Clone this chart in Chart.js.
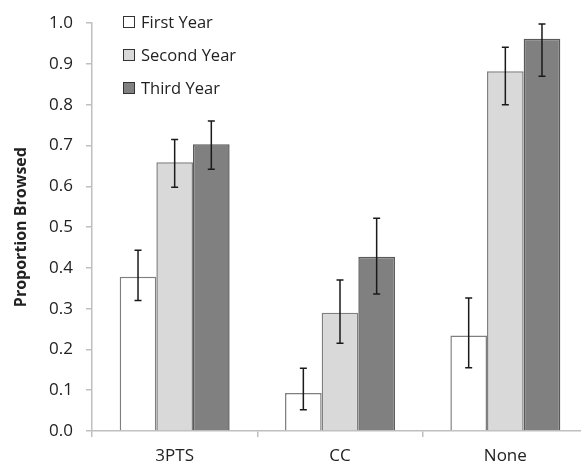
<!DOCTYPE html>
<html><head><meta charset="utf-8">
<script src="https://cdn.jsdelivr.net/npm/chart.js@4.4.0/dist/chart.umd.min.js"></script>
<style>
html,body{margin:0;padding:0;background:#fff;overflow:hidden;}
#wrap{position:relative;width:581px;height:465px;overflow:hidden;}
#legend{position:absolute;left:123px;top:5px;font-family:"Open Sans",sans-serif;font-size:16.5px;color:#222;}
#legend div{height:33px;display:flex;align-items:center;}
#legend span.b{display:inline-block;width:12px;height:12px;border:1.5px solid #333;margin-right:6px;box-sizing:border-box;}
</style></head>
<body>
<div id="wrap">
<canvas id="c" width="588" height="465"></canvas>
<div id="legend"></div>
</div>
<script>
const categories = ["3PTS", "CC", "None"];
const seriesNames = ["First Year", "Second Year", "Third Year"];
const firstYear = [0.378, 0.093, 0.234];
const secondYear = [0.659, 0.290, 0.882];
const thirdYear = [0.703, 0.427, 0.962];
const firstLow = [0.320, 0.052, 0.155];
const firstHigh = [0.443, 0.154, 0.326];
const secondLow = [0.598, 0.215, 0.800];
const secondHigh = [0.715, 0.370, 0.941];
const thirdLow = [0.642, 0.336, 0.870];
const thirdHigh = [0.760, 0.522, 0.998];
const yTicks = [0.0, 0.1, 0.2, 0.3, 0.4, 0.5, 0.6, 0.7, 0.8, 0.9, 1.0];

const fills = ["#ffffff", "#d9d9d9", "#808080"];
const borders = ["#7f7f7f", "#7f7f7f", "#595959"];
const lows = [firstLow, secondLow, thirdLow];
const highs = [firstHigh, secondHigh, thirdHigh];
const values = [firstYear, secondYear, thirdYear];

const leg = document.getElementById('legend');
seriesNames.forEach((n,i)=>{
  const d=document.createElement('div');
  d.innerHTML='<span class="b" style="background:'+fills[i]+'"></span>'+n;
  leg.appendChild(d);
});

const errorBars = {
  id:'errorBars',
  afterDatasetsDraw(chart){
    const ctx=chart.ctx, y=chart.scales.y;
    ctx.save();
    ctx.strokeStyle='#1a1a1a';
    ctx.lineWidth=1.5;
    chart.data.datasets.forEach((ds,di)=>{
      const meta=chart.getDatasetMeta(di);
      meta.data.forEach((bar,i)=>{
        const x=bar.x;
        const yl=y.getPixelForValue(lows[di][i]);
        const yh=y.getPixelForValue(highs[di][i]);
        ctx.beginPath();
        ctx.moveTo(x,yl);ctx.lineTo(x,yh);
        ctx.moveTo(x-3.5,yl);ctx.lineTo(x+3.5,yl);
        ctx.moveTo(x-3.5,yh);ctx.lineTo(x+3.5,yh);
        ctx.stroke();
      });
    });
    ctx.restore();
  }
};

new Chart(document.getElementById('c'),{
  type:'bar',
  data:{
    labels:categories,
    datasets:values.map((v,i)=>({
      label:seriesNames[i],
      data:v,
      backgroundColor:fills[i],
      borderColor:borders[i],
      borderWidth:1.5,
      categoryPercentage:0.665,
      barPercentage:1.0
    }))
  },
  options:{
    responsive:false,
    animation:false,
    layout:{padding:{top:17,right:0,left:0,bottom:0}},
    plugins:{legend:{display:false},tooltip:{enabled:false}},
    scales:{
      x:{
        grid:{display:true,drawOnChartArea:false,offset:true,tickLength:6,color:'#bfbfbf',lineWidth:1.5},
        border:{display:true,color:'#bfbfbf',width:1.5},
        ticks:{font:{family:'"Open Sans", sans-serif',size:17},color:'#222',padding:9},
        afterFit(s){s.height=34;}
      },
      y:{
        min:0,max:1,
        afterBuildTicks(s){s.ticks=yTicks.map(v=>({value:v}));},
        grid:{display:true,drawOnChartArea:false,tickLength:6,color:'#bfbfbf',lineWidth:1.5},
        border:{display:true,color:'#bfbfbf',width:1.5},
        ticks:{font:{family:'"Open Sans", sans-serif',size:17},color:'#222',padding:13,
          callback:(v)=>Number(v).toFixed(1)},
        title:{display:true,text:'Proportion Browsed',font:{family:'"Open Sans", sans-serif',size:16,weight:'bold'},color:'#222',padding:{top:12,bottom:0}},
        afterFit(s){s.width=92;}
      }
    }
  },
  plugins:[errorBars]
});
</script>
</body></html>
